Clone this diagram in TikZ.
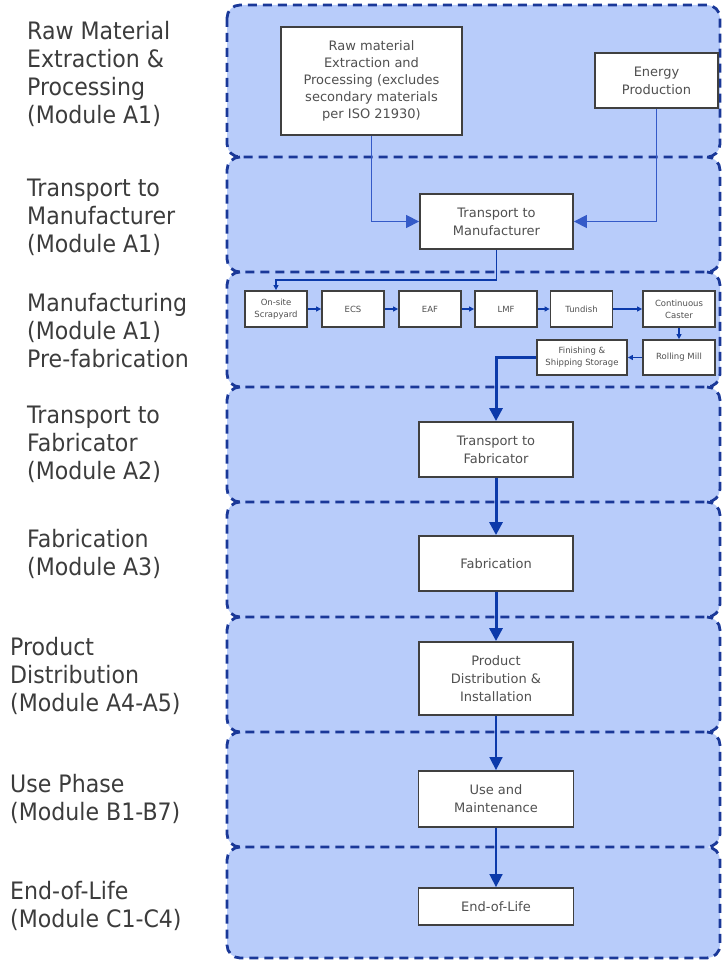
\documentclass[tikz,border=0pt]{standalone}
\usepackage{fontspec}
\setmainfont{DejaVu Sans}
\newfontfamily\labelfont{DejaVu Sans}[FakeStretch=0.92]
\usetikzlibrary{arrows.meta,calc}
\definecolor{bandfill}{RGB}{184,204,250}
\definecolor{dashblue}{RGB}{26,56,152}
\definecolor{deepblue}{RGB}{12,58,170}
\definecolor{linkblue}{RGB}{52,90,200}
\definecolor{boxgray}{RGB}{64,64,64}
\definecolor{textgray}{RGB}{80,80,80}
\definecolor{labgray}{RGB}{60,60,60}
\tikzset{
  bandline/.style={draw=dashblue, line width=2.8pt, dash pattern=on 9pt off 6pt, rounded corners=13pt},
  box/.style={draw=boxgray, fill=white, line width=1.8pt, inner sep=0pt, align=center, text=textgray, font=\fontsize{13}{18}\selectfont},
  sbox/.style={box, minimum width=62pt, minimum height=36pt, font=\fontsize{8.5}{11.7}\selectfont},
  lab/.style={anchor=base west, align=left, inner sep=0pt, text=labgray, font=\labelfont\fontsize{24}{28}\selectfont},
  thinarrow/.style={draw=linkblue, line width=1.3pt, -{Triangle[length=13pt,width=13pt]}},
  thickarrow/.style={draw=deepblue, line width=3pt, -{Triangle[length=13pt,width=13pt]}},
  midarrow/.style={draw=deepblue, line width=1.6pt, -{Triangle[length=13pt,width=13pt]}},
  smallarrow/.style={draw=deepblue, line width=1.4pt, -{Triangle[length=5pt,width=5pt]}}
}
\begin{document}
\begin{tikzpicture}[x=1pt,y=-1pt]
\useasboundingbox (0,0) rectangle (722,960);
% bands
\foreach \t/\b in {5/157,157/272,272/387,387/502,502/617,617/732,732/847,847/958}
  \fill[bandfill, rounded corners=13pt] (227,\t) rectangle (720,\b);
\draw[bandline] (227,5) rectangle (720,157);
\foreach \t/\b in {157/272,272/387,387/502,502/617,617/732,732/847,847/958}
  \draw[bandline] (240,\t) -- (227,\t) -- (227,\b) -- (720,\b) -- (720,\t) -- (707,\t);
% labels (anchored at the baseline of the last line)
\node[lab] (l1) at (27,123.5) {Raw Material\\Extraction \&\\Processing\\(Module A1)};
\node[lab] (l2) at (27,252.5) {Transport to\\Manufacturer\\(Module A1)};
\node[lab] (l3) at (27,367.5) {Manufacturing\\(Module A1)\\Pre-fabrication};
\node[lab] (l4) at (27,479.5) {Transport to\\Fabricator\\(Module A2)};
\node[lab] (l5) at (27,575.5) {Fabrication\\(Module A3)};
\node[lab] (l6) at (10,711.5) {Product\\Distribution\\(Module A4-A5)};
\node[lab] (l7) at (10,820.5) {Use Phase\\(Module B1-B7)};
\node[lab] (l8) at (10,927.5) {End-of-Life\\(Module C1-C4)};
% boxes
\node[box, minimum width=181pt, minimum height=108pt, font=\fontsize{13}{17}\selectfont] (raw) at (371.5,81) {Raw material\\Extraction and\\Processing (excludes\\secondary materials\\per ISO 21930)};
\node[box, minimum width=123pt, minimum height=55pt] (energy) at (656.5,80.5) {Energy\\Production};
\node[box, minimum width=153pt, minimum height=55pt] (ttm) at (496.5,221.5) {Transport to\\Manufacturer};
\node[sbox] (scrap) at (276,309) {On-site\\Scrapyard};
\node[sbox] (ecs) at (353,309) {ECS};
\node[sbox] (eaf) at (430,309) {EAF};
\node[sbox] (lmf) at (506,309) {LMF};
\node[sbox] (tundish) at (581.5,309) {Tundish};
\node[sbox, minimum width=72pt] (caster) at (679,309) {Continuous\\Caster};
\node[sbox, minimum width=72pt, minimum height=35pt] (rolling) at (679,357.5) {Rolling Mill};
\node[sbox, minimum width=90pt, minimum height=35pt] (finish) at (582,357.5) {Finishing \&\\Shipping Storage};
\node[box, minimum width=154pt, minimum height=55pt] (ttf) at (496,449.5) {Transport to\\Fabricator};
\node[box, minimum width=154pt, minimum height=55pt] (fab) at (496,563.5) {Fabrication};
\node[box, minimum width=154pt, minimum height=73pt] (pd) at (496,678.5) {Product\\Distribution \&\\Installation};
\node[box, minimum width=155pt, minimum height=56pt] (use) at (496,799) {Use and\\Maintenance};
\node[box, minimum width=155pt, minimum height=37pt] (eol) at (496,906.5) {End-of-Life};
% connectors
\coordinate (tb) at (0,280);
\draw[thinarrow] (raw.south) |- (ttm.west);
\draw[thinarrow] (energy.south) |- (ttm.east);
\draw[smallarrow] (ttm.south) -- (ttm.south |- tb) -| (scrap.north);
\draw[smallarrow] (scrap) -- (ecs);
\draw[smallarrow] (ecs) -- (eaf);
\draw[smallarrow] (eaf) -- (lmf);
\draw[smallarrow] (lmf) -- (tundish);
\draw[smallarrow] (tundish) -- (caster);
\draw[smallarrow] (caster) -- (rolling);
\draw[smallarrow] (rolling) -- (finish);
\draw[thickarrow] (finish.west) -| (ttf.north);
\draw[thickarrow] (ttf) -- (fab);
\draw[thickarrow] (fab) -- (pd);
\draw[midarrow] (pd) -- (use);
\draw[midarrow] (use) -- (eol);
\end{tikzpicture}
\end{document}
